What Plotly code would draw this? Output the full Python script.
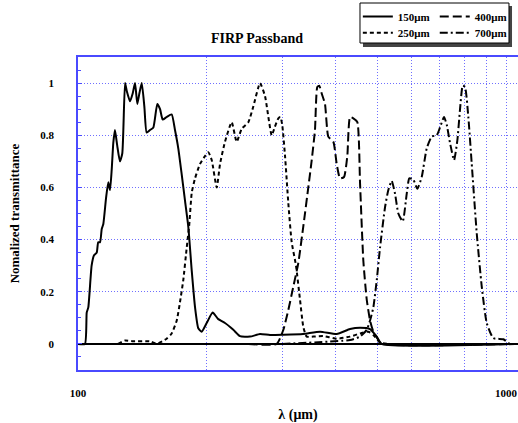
import plotly.graph_objects as go

# ---- data (wavelength in micrometres, normalized transmittance) ----
x150 = [100, 103.8, 104.8, 105.7, 107.6, 109.0, 110.6, 111.5, 112.6, 113.6,
        114.6, 116.3, 117.7, 118.8, 119.9, 120.9, 122.0, 123.5, 125.3, 126.9,
        128.8, 130.0, 132.3, 134.2, 135.9, 137.6, 139.1, 140.9, 142.9, 144.7,
        147.3, 150.0, 153.2, 155.5, 157.7, 161.1, 165.5, 168.5, 171.5, 174.7,
        177.8, 181.0, 184.4, 187.7, 191.0, 194.5, 199.8, 206.4, 212.7, 220.5,
        230.6, 239.0, 252.3, 266.2, 280.9, 301.3, 335.6, 367.7, 402.2, 432.1,
        456.0, 481.2, 498.9, 512.5, 1050]
y150 = [0, 0, 0.12, 0.14, 0.30, 0.34, 0.35, 0.39, 0.39, 0.44,
        0.46, 0.56, 0.62, 0.59, 0.67, 0.77, 0.82, 0.76, 0.70, 0.73,
        1.0, 0.97, 0.93, 0.96, 1.0, 0.92, 0.96, 1.0, 0.91, 0.81,
        0.82, 0.83, 0.92, 0.90, 0.86, 0.87, 0.88, 0.82, 0.75, 0.65,
        0.55, 0.45, 0.28, 0.14, 0.06, 0.047, 0.08, 0.12, 0.095, 0.08,
        0.054, 0.03, 0.028, 0.038, 0.034, 0.035, 0.038, 0.047, 0.038, 0.057,
        0.062, 0.057, 0.028, 0, 0]

x250 = [124.0, 128.8, 134.5, 147.3, 152.5, 161.1, 165.5, 170.1, 173.1, 176.2,
        179.5, 182.0, 184.4, 187.7, 192.8, 198.0, 201.6, 205.3, 210.9, 214.7,
        220.5, 228.6, 234.8, 241.3, 250.0, 256.8, 266.2, 273.5, 283.5, 288.0,
        293.8, 297.0, 300.0, 304.6, 310.0, 315.7, 323.1, 330.1, 336.0, 342.2,
        354.6, 374.2, 402.2, 432.1, 456.0, 476.8, 489.8, 507.8, 530.0]
y250 = [0, 0.013, 0.01, 0.01, 0.0, 0.02, 0.04, 0.09, 0.16, 0.245,
        0.37, 0.46, 0.58, 0.635, 0.69, 0.72, 0.735, 0.705, 0.60, 0.69,
        0.775, 0.85, 0.775, 0.825, 0.85, 0.91, 1.0, 0.95, 0.80, 0.83,
        0.865, 0.87, 0.84, 0.72, 0.54, 0.39, 0.30, 0.17, 0.066, 0.028,
        0.028, 0.03, 0.02, 0.028, 0.04, 0.047, 0.034, 0.005, 0]

x400 = [250, 291.2, 301.8, 310.0, 318.5, 327.1, 336.0, 345.2, 351.6, 357.8,
        362.3, 366.2, 371.0, 377.6, 384.4, 395.0, 402.2, 409.4, 418.3, 425.8,
        432.1, 439.8, 449.4, 456.0, 464.1, 472.7, 481.2, 489.8, 503.2, 512.5,
        1050]
y400 = [0, 0, 0.054, 0.13, 0.22, 0.31, 0.45, 0.60, 0.705, 0.82,
        0.985, 0.99, 0.96, 0.92, 0.795, 0.775, 0.69, 0.635, 0.64, 0.72,
        0.87, 0.865, 0.85, 0.615, 0.32, 0.17, 0.09, 0.047, 0.015, 0,
        0]

x700 = [300, 432.1, 456.0, 472.7, 481.2, 489.8, 498.9, 507.8, 521.7, 530.9,
        540.7, 550.5, 560.3, 573.7, 586.1, 594.4, 607.3, 620.6, 635.4, 652.8,
        670.6, 688.9, 701.2, 716.4, 727.0, 740.0, 756.1, 769.6, 780.9, 792.3,
        802.1, 816.5, 831.6, 854.2, 877.6, 901.5, 934.0, 985.6, 1021.7, 1050]
y700 = [0, 0.015, 0.028, 0.054, 0.09, 0.14, 0.245, 0.37, 0.525, 0.59,
        0.625, 0.575, 0.50, 0.47, 0.575, 0.635, 0.63, 0.595, 0.64, 0.75,
        0.795, 0.80, 0.83, 0.87, 0.84, 0.77, 0.705, 0.78, 0.90, 0.99,
        0.985, 0.87, 0.69, 0.425, 0.22, 0.08, 0.022, 0.018, 0, 0]

y_tickvals = [0, 0.2, 0.4, 0.6, 0.8, 1]
y_ticktext = ["0", "0.2", "0.4", "0.6", "0.8", "1"]
x_tickvals = [100, 200, 300, 400, 500, 600, 700, 800, 900, 1000]
x_ticktext = ["100", "", "", "", "", "", "", "", "", "1000"]

FONT = "Liberation Serif"
BLUE = "#4a4aff"
GRID = "#6f6fff"

fig = go.Figure()

def add(x, y, name, dash, legend):
    fig.add_trace(go.Scatter(
        x=x, y=y, mode="lines", name=name, legend=legend,
        line=dict(color="black", width=2, dash=dash, shape="spline", smoothing=0.5),
    ))

add(x150, y150, "150μm", "solid", "legend")
add(x400, y400, "400μm", "9px,4px", "legend")
add(x250, y250, "250μm", "4px,3px", "legend2")
add(x700, y700, "700μm", "8px,3px,2px,3px", "legend2")

legfont = dict(family=FONT, size=11, color="black", weight="bold")

fig.update_layout(
    width=518, height=423,
    margin=dict(l=78, r=0, t=57, b=53, autoexpand=False),
    paper_bgcolor="white", plot_bgcolor="white",
    font=dict(family=FONT, color="black"),
    title=dict(text="FIRP Passband", x=257 / 518, xref="container", xanchor="center",
               y=1 - 38 / 423, yref="container", yanchor="middle",
               font=dict(family=FONT, size=14, color="black", weight="bold")),
    showlegend=True,
    legend=dict(orientation="h", x=0.636, y=1.176, xanchor="left", yanchor="top",
                bgcolor="rgba(0,0,0,0)", borderwidth=0, font=legfont,
                itemwidth=30, tracegroupgap=0),
    legend2=dict(orientation="h", x=0.636, y=1.124, xanchor="left", yanchor="top",
                 bgcolor="rgba(0,0,0,0)", borderwidth=0, font=legfont,
                 itemwidth=30, tracegroupgap=0),
    xaxis=dict(
        type="log", range=[2, 3.028], automargin=False,
        tickvals=x_tickvals, ticktext=x_ticktext,
        tickfont=dict(family=FONT, size=11, color="black", weight="bold"),
        ticks="", ticklabelstandoff=12,
        showgrid=True, gridcolor=GRID, griddash="1px,2px", gridwidth=1,
        showline=True, linecolor=BLUE, linewidth=1.5, mirror=True,
        zeroline=False,
        title=dict(text="λ (μm)", standoff=12,
                   font=dict(family=FONT, size=14, color="black", weight="bold")),
    ),
    yaxis=dict(
        range=[-0.1, 1.1], automargin=False,
        tickvals=y_tickvals, ticktext=y_ticktext,
        tickfont=dict(family=FONT, size=11, color="black", weight="bold"),
        ticks="inside", ticklen=4, tickcolor=BLUE, ticklabelstandoff=20,
        minor=dict(dtick=0.05, tick0=0, ticks="inside", ticklen=3, tickcolor=BLUE, showgrid=False),
        showgrid=True, gridcolor=GRID, griddash="1px,2px", gridwidth=1,
        showline=True, linecolor=BLUE, linewidth=1.5,
        zeroline=True, zerolinecolor="black", zerolinewidth=1.5,
        title=dict(text="Nomalized transmittance", standoff=18,
                   font=dict(family=FONT, size=13, color="black", weight="bold")),
    ),
    shapes=[
        dict(type="rect", xref="paper", yref="paper", x0=0.6477, x1=0.9864, y0=1.0319, y1=1.1629,
             fillcolor="#444444", line=dict(width=0), layer="above"),
        dict(type="rect", xref="paper", yref="paper", x0=0.6409, x1=0.9795, y0=1.0447, y1=1.1725,
             fillcolor="white", line=dict(color="black", width=1), layer="above"),
    ],
)

fig.write_html("out.html", config={"displayModeBar": False},
               post_script="document.body.style.margin='0';document.body.style.padding='0';")
